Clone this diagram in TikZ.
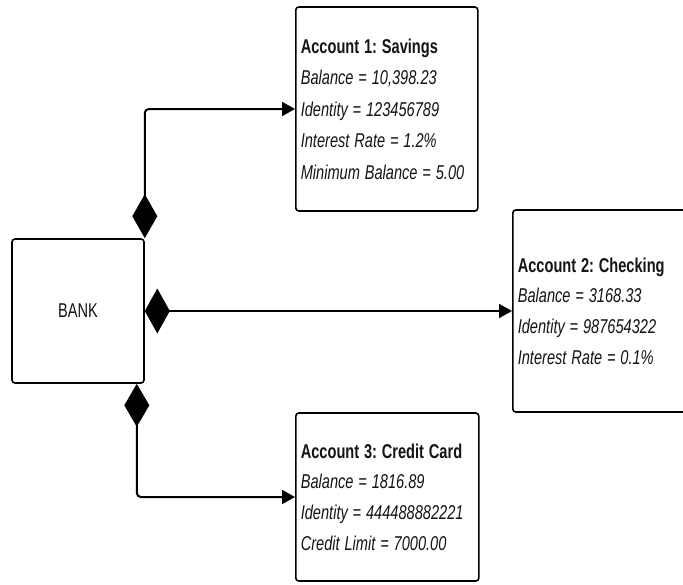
\documentclass[tikz,border=0pt]{standalone}
\usepackage{fontspec}
\usepackage{graphicx}
\setmainfont{Liberation Sans}
\usetikzlibrary{arrows.meta}
% condensed line of text
\newcommand{\nar}[1]{\scalebox{0.73}[1]{#1}}
\begin{document}
\frenchspacing
\begin{tikzpicture}[x=1pt,y=-1pt,
  every node/.style={font=\fontsize{20}{31.5}\selectfont, text=black!92},
  box/.style={draw, line width=1.6pt, rounded corners=3pt, inner xsep=5pt, inner ysep=0pt},
  acct/.style={box, align=left, anchor=west},
  tight/.style={font=\fontsize{20}{30.7}\selectfont},
  link/.style={line width=2pt, rounded corners=4pt}
]
\useasboundingbox (0,0) rectangle (683,584);
\clip (0,0) rectangle (683,584);

% the bank
\node[box, minimum width=132pt, minimum height=144pt] (bank) at (78,311) {\nar{BANK}};

% the three accounts
\node[acct, text width=172pt, minimum height=204pt] (sav) at (295,109)
  {\nar{\textbf{Account 1: Savings}}\\
   \nar{\textit{Balance = 10,398.23}}\\
   \nar{\textit{Identity = 123456789}}\\
   \nar{\textit{Interest Rate = 1.2\%}}\\
   \nar{\textit{Minimum Balance = 5.00}}};
\node[acct, tight, text width=190pt, minimum height=202pt] (chk) at (512,311)
  {\nar{\textbf{Account 2: Checking}}\\
   \nar{\textit{Balance = 3168.33}}\\
   \nar{\textit{Identity = 987654322}}\\
   \nar{\textit{Interest Rate = 0.1\%}}};
\node[acct, tight, text width=173pt, minimum height=168pt] (cc) at (295,497)
  {\nar{\textbf{Account 3: Credit Card}}\\
   \nar{\textit{Balance = 1816.89}}\\
   \nar{\textit{Identity = 444488882221}}\\
   \nar{\textit{Credit Limit = 7000.00}}};

% composition links
\coordinate (topstart) at (bank.north east);
\coordinate (botstart) at ([xshift=-8pt]bank.south east);
\draw[link, {Diamond[length=44pt,width=25pt]}-{Triangle[length=13pt,width=14pt]}]
  (topstart) |- (sav.west);
\draw[link, {Diamond[length=25pt,width=45pt]}-{Triangle[length=13pt,width=14pt]}]
  (bank.east) -- (chk.west);
\draw[link, {Diamond[length=43pt,width=25pt]}-{Triangle[length=13pt,width=14pt]}]
  (botstart) |- (cc.west);
\end{tikzpicture}
\end{document}
